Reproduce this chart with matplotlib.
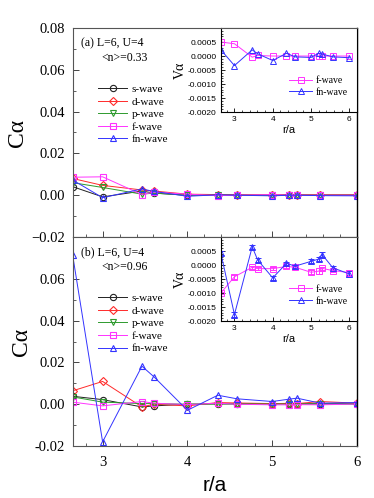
import numpy as np
import matplotlib
matplotlib.use("Agg")
import matplotlib.pyplot as plt
from matplotlib.lines import Line2D
from matplotlib.ticker import MultipleLocator, FormatStrFormatter

# distances on the triangular lattice
r = [2.646, 3.0, 3.464, 3.606, 4.0, 4.359, 4.583, 5.0, 5.196, 5.292, 5.568, 6.0]

# panel (a): <n>=0.33
a_s = [0.0041, -0.0008, 0.0020, 0.0010, 0.0000, 0.0002, 0.0001, 0.0001, 0.0001, 0.0001, 0.0001, 0.0001]
a_d = [0.0080, 0.0047, 0.0025, 0.0020, 0.0005, 0.0003, 0.0002, 0.0002, 0.0002, 0.0002, 0.0002, 0.0002]
a_p = [0.0060, 0.0037, 0.0005, 0.0010, 0.0000, 0.0000, 0.0000, 0.0000, 0.0000, 0.0000, 0.0000, 0.0000]
a_f = [0.0086, 0.0088, 0.0003, 0.0015, 0.0005, -0.0002, 0.0000, 0.0003, 0.0000, 0.0000, 0.0000, 0.0000]
a_fn = [0.0073, -0.0012, 0.0030, 0.0018, -0.0005, 0.0002, 0.0000, -0.0003, 0.0000, 0.0000, -0.0002, -0.0003]

a_vf = [0.00050, 0.00044, -0.00004, 0.00002, 0.0, 0.0, 0.0, 0.0, 0.0, 0.0, 0.0, 0.0]
a_vfn = [0.00022, -0.00034, 0.00022, 0.00008, -0.00016, 0.00010, -0.00003, -0.00005, 0.00010, 0.00007, -0.00003, -0.00006]

# panel (b): <n>=0.96
b_s = [0.0038, 0.0022, -0.0013, -0.0008, 0.0000, 0.0002, 0.0002, 0.0002, 0.0002, 0.0002, 0.0002, 0.0002]
b_d = [0.0064, 0.0109, -0.0013, 0.0000, -0.0008, 0.0008, 0.0006, 0.0003, 0.0004, 0.0003, 0.0013, 0.0005]
b_p = [0.0035, 0.0010, 0.0003, 0.0003, 0.0000, 0.0001, 0.0001, 0.0001, 0.0001, 0.0001, 0.0001, 0.0001]
b_f = [0.0010, -0.0008, 0.0013, 0.0005, -0.0002, 0.0005, 0.0000, -0.0003, -0.0003, -0.0002, -0.0003, 0.0001]
b_fn = [0.0715, -0.0180, 0.0182, 0.0131, -0.0029, 0.0043, 0.0026, 0.0013, 0.0024, 0.0029, 0.0005, 0.0008]

b_vf = [-0.00100, -0.00042, -0.00008, -0.00013, -0.00013, -0.00005, -0.00008, -0.00026, -0.00022, -0.00012, -0.00020, -0.00027]
b_vf_err = [0.00005, 0.00008, 0.00005, 0.00005, 0.00005, 0.00005, 0.00004, 0.00007, 0.00010, 0.00006, 0.00006, 0.00010]
b_vfn = [0.00042, -0.00177, 0.00065, 0.00018, -0.00046, 0.00006, -0.00004, 0.00013, 0.00021, 0.00037, -0.00010, -0.00032]
b_vfn_err = [0.00008, 0.00010, 0.00008, 0.00006, 0.00008, 0.00006, 0.00005, 0.00007, 0.00008, 0.00008, 0.00007, 0.00010]

labels = ["s-wave", "d-wave", "p-wave", "f-wave", "fn-wave"]
colors = ["#222222", "#ff2a2a", "#2e9a2e", "#ff33ff", "#3333ff"]
markers = ["o", "D", "v", "s", "^"]
msizes = [4.5, 4, 4.5, 4.5, 5]

serif = "Liberation Serif"
sans = "Liberation Sans"

fig = plt.figure(figsize=(3.74, 4.98), dpi=100)

ax_a = fig.add_axes([0.195, 0.524, 0.7595, 0.42])
ax_b = fig.add_axes([0.195, 0.1044, 0.7595, 0.4196])


def style_main(ax, show_x):
    ax.set_xlim(2.65, 6.0)
    ax.set_ylim(-0.02, 0.08)
    ax.set_xticks([3, 4, 5, 6])
    ax.xaxis.set_minor_locator(MultipleLocator(0.2))
    ax.yaxis.set_minor_locator(MultipleLocator(0.01))
    ax.tick_params(which="both", direction="in", top=False, right=False, color="#444444")
    ax.tick_params(which="major", length=4, width=0.7)
    ax.tick_params(which="minor", length=2.5, width=0.6)
    ax.tick_params(axis="y", pad=6)
    ax.tick_params(axis="x", pad=7)
    for s in ["left", "top", "bottom"]:
        ax.spines[s].set_color("#555555")
        ax.spines[s].set_linewidth(0.8)
    ax.spines["right"].set_color("black")
    ax.spines["right"].set_linewidth(1.0)
    for lab in ax.get_yticklabels() + ax.get_xticklabels():
        lab.set_fontfamily(serif)
        lab.set_fontsize(10.5)
    if not show_x:
        ax.set_xticklabels([])
    ax.set_ylabel("C\u03b1", fontfamily=serif, fontsize=17, labelpad=2)


def draw_main(ax, series, note1, note2):
    for ys, lab, c, m, ms in zip(series, labels, colors, markers, msizes):
        ax.plot(r, ys, color=c, marker=m, ms=ms, mfc="none", mec=c, mew=0.8, lw=0.7, label=lab)
    ax.text(0.03, 0.925, note1, transform=ax.transAxes, fontfamily=serif, fontsize=8.5, va="center")
    ax.text(0.1, 0.855, note2, transform=ax.transAxes, fontfamily=serif, fontsize=8.5, va="center")
    ax.legend(loc="upper left", bbox_to_anchor=(0.09, 0.73), frameon=False,
              prop={"family": serif, "size": 8}, handlelength=2.6, handletextpad=0.35,
              labelspacing=0.25, borderpad=0, borderaxespad=0)


draw_main(ax_a, [a_s, a_d, a_p, a_f, a_fn], "(a) L=6, U=4", "<n>=0.33")
draw_main(ax_b, [b_s, b_d, b_p, b_f, b_fn], "(b) L=6, U=4", "<n>=0.96")
style_main(ax_a, False)
style_main(ax_b, True)
ax_b.set_yticks([-0.02, 0.0, 0.02, 0.04, 0.06, 0.08])
ax_b.set_yticklabels(["-0.02", "0.00", "0.02", "0.04", "0.06", ""], fontfamily=serif, fontsize=10.5)
ax_b.set_xlabel("r/a", fontfamily=sans, fontsize=15, labelpad=5)


def draw_inset(rect, vf, vfn, vf_err=None, vfn_err=None):
    ins = fig.add_axes(rect)
    ins.set_facecolor("white")
    if vf_err is None:
        ins.plot(r, vf, color=colors[3], marker="s", ms=4, mfc="none", mew=0.7, lw=0.7)
        ins.plot(r, vfn, color=colors[4], marker="^", ms=4.5, mfc="none", mew=0.7, lw=0.7)
    else:
        ins.errorbar(r, vf, yerr=vf_err, color=colors[3], marker="s", ms=4, mfc="none", mew=0.7,
                     lw=0.7, elinewidth=0.7, capsize=2)
        ins.errorbar(r, vfn, yerr=vfn_err, color=colors[4], marker="^", ms=4.5, mfc="none", mew=0.7,
                     lw=0.7, elinewidth=0.7, capsize=2)
    ins.set_xlim(2.65, 6.2)
    ins.set_ylim(-0.002, 0.001)
    ins.set_xticks([3, 4, 5, 6])
    ins.set_yticks([-0.002, -0.0015, -0.001, -0.0005, 0.0, 0.0005])
    ins.yaxis.set_major_formatter(FormatStrFormatter("%.4f"))
    ins.xaxis.set_minor_locator(MultipleLocator(0.2))
    ins.yaxis.set_minor_locator(MultipleLocator(0.0001))
    ins.tick_params(which="both", direction="in", top=False, right=False, labelsize=6, pad=3)
    ins.tick_params(which="major", length=3, width=0.6)
    ins.tick_params(which="minor", length=1.5, width=0.5)
    for lab in ins.get_xticklabels() + ins.get_yticklabels():
        lab.set_fontfamily(sans)
    for s in ins.spines.values():
        s.set_linewidth(0.8)
    ins.spines["top"].set_color("#555555")
    ins.set_xlabel("r/a", fontfamily=sans, fontsize=8, labelpad=1)
    ins.set_ylabel("V\u03b1", fontfamily=serif, fontsize=10, labelpad=1)
    handles = [
        Line2D([], [], color=colors[3], marker="s", ms=4, mfc="none", mew=0.7, lw=0.7),
        Line2D([], [], color=colors[4], marker="^", ms=4.5, mfc="none", mew=0.7, lw=0.7),
    ]
    ins.legend(handles, ["f-wave", "fn-wave"], loc="upper left", bbox_to_anchor=(0.5, 0.43),
               frameon=False, prop={"family": serif, "size": 7}, handlelength=2.4,
               handletextpad=0.3, labelspacing=0.3, borderpad=0, borderaxespad=0)
    return ins


draw_inset([0.591, 0.775, 0.3636, 0.1687], a_vf, a_vfn)
draw_inset([0.591, 0.3554, 0.3636, 0.1687], b_vf, b_vfn, b_vf_err, b_vfn_err)

plt.savefig("out.png", dpi=100)
plt.close()
